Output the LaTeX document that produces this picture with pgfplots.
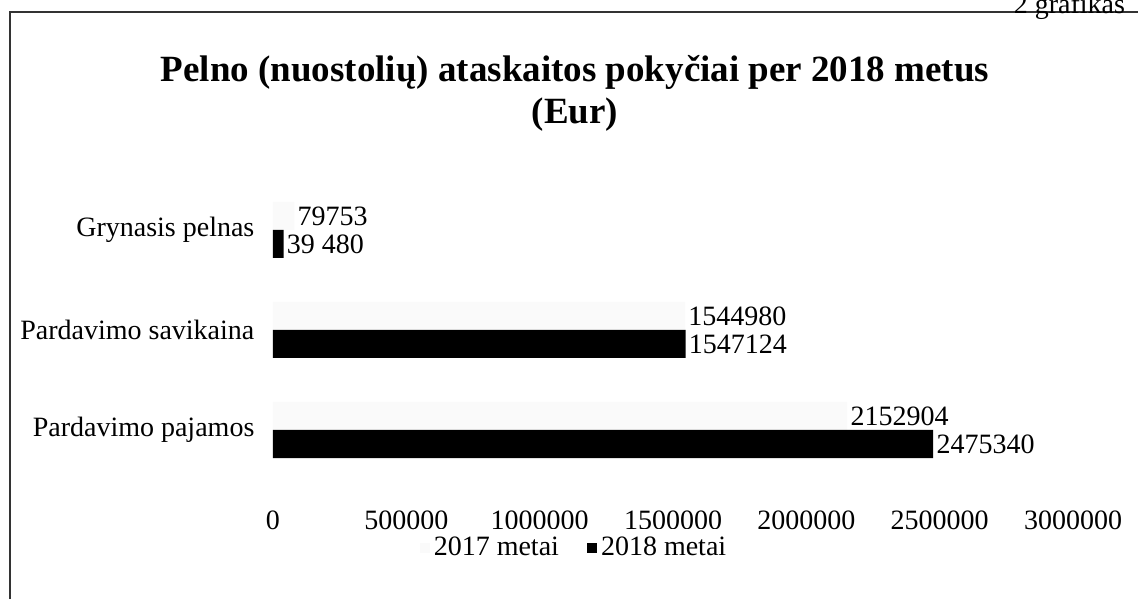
\documentclass[border=0pt]{standalone}
\usepackage{fontspec}
\setmainfont{Liberation Serif}
\usepackage{pgfplots}
\pgfplotsset{compat=1.18}
\begin{document}
\begin{tikzpicture}[x=1pt,y=1pt]
\begin{axis}[
  scale only axis,
  width=400pt, height=150pt,
  xbar, bar width=14pt,
  xmin=0, xmax=3000000, ymin=-0.5, ymax=2.5,
  ytick={0,1,2},
  yticklabels={Pardavimo pajamos, Pardavimo savikaina, Grynasis pelnas},
  xtick={0,500000,1000000,1500000,2000000,2500000,3000000},
  scaled x ticks=false,
  axis line style={draw=none}, tick style={draw=none},
  xticklabel style={yshift=-12pt, /pgf/number format/fixed, /pgf/number format/1000 sep={}, /pgf/number format/assume math mode=true},
  yticklabel style={xshift=-1.5pt},
  every tick label/.append style={font=\fontsize{14}{16}\selectfont},
  nodes near coords, point meta=explicit symbolic,
  nodes near coords style={anchor=west, text=black, font=\fontsize{14}{16}\selectfont, inner sep=1.5pt},
  legend image code/.code={\fill[#1] (0pt,-2.5pt) rectangle (5pt,2.5pt);},
  legend style={at={(0.3775,-0.225)}, anchor=center, draw=none, legend columns=2,
    font=\fontsize{14}{16}\selectfont,
    /tikz/every odd column/.append style={column sep=0pt},
    /tikz/every even column/.append style={column sep=12pt}},
]
\addplot[fill=black!2, draw=none, bar shift=7pt] coordinates {(2152904,0) [2152904] (1544980,1) [1544980] (79753,2) [79753]};
\addplot[fill=black, draw=none, bar shift=-7pt] coordinates {(2475340,0) [2475340] (1547124,1) [1547124] (39480,2) [39 480]};
\legend{2017 metai, 2018 metai}
\end{axis}
\pgfresetboundingbox
\useasboundingbox (-136.5,-59.5) rectangle (432.5,240);
\draw[black!80, line width=0.6pt] (-131.5,-59.5) -- (-131.5,234) -- (432.5,234);
\node[anchor=base east, font=\fontsize{14}{16}\selectfont] at (429.5,233) {2 grafikas};
\node[align=center, font=\bfseries\fontsize{18.5}{21}\selectfont] at (151,193.5) {Pelno (nuostolių) ataskaitos pokyčiai per 2018 metus\\(Eur)};
\end{tikzpicture}
\end{document}
